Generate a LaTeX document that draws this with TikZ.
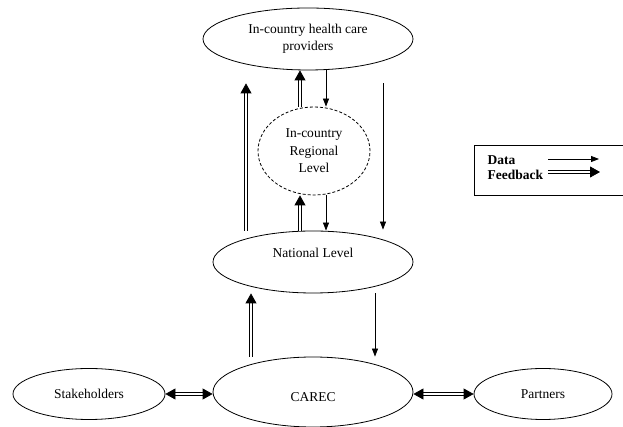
\documentclass[tikz,border=0pt]{standalone}
\usepackage{fontspec}
\setmainfont{Liberation Serif}
\usetikzlibrary{arrows.meta, shapes, positioning, calc}

\begin{document}
\begin{tikzpicture}[x=1pt, y=1pt, font=\fontsize{13.5}{17.5}\selectfont, line width=0.8pt,
    level/.style={ellipse, draw, inner sep=0pt, align=center},
    dataarrow/.style={-{Triangle[length=8pt, width=6pt]}},
    feedarrow/.style={double, double distance=1.8pt, -{Triangle[length=10pt, width=11pt]}},
    feedboth/.style={double, double distance=1.8pt, {Triangle[length=10pt, width=11pt]}-{Triangle[length=10pt, width=11pt]}}]
        \useasboundingbox (0,0) rectangle (623,427);

        \node[level, minimum width=210pt, minimum height=62pt] (hcp) at (308,388) {In-country health care\\providers};
        \node[level, densely dashed, minimum width=112pt, minimum height=88pt] (reg) at (314,276) {In-country\\Regional\\Level};
        \node[level, minimum width=200pt, minimum height=62pt, text height=10pt, text depth=19pt] (nat) at (313,165) {National Level};
        \node[level, minimum width=200pt, minimum height=70pt, text height=22pt, text depth=3pt] (carec) at (313,35) {CAREC};

        \node[level, minimum width=152pt, minimum height=51pt] (stake) at (89,33) {Stakeholders};
        \node[level, minimum width=138pt, minimum height=51pt] (part) at (543,33) {Partners};

         %legend
        \node[anchor=west, font=\fontsize{13.5}{15}\bfseries] (data) at (484,267) {Data};
        \node[anchor=west, font=\fontsize{13.5}{15}\bfseries] (feed) at (484,252) {Feedback};
        \coordinate (d0) at (548,268);
        \coordinate (d1) at (599,268);
        \coordinate (f0) at (548,255);
        \coordinate (f1) at (600,255);
        \draw (623,282) -| (474,232) -- (623,232);

         %Draw up and down arrows
        \draw[feedarrow] ([xshift=-14pt]reg.north) -- ([xshift=-8pt]hcp.south);
        \draw[dataarrow] ([xshift=18pt]hcp.south) -- ([xshift=12pt]reg.north);

        \draw[feedarrow] ([xshift=-13pt]nat.north) -- ([xshift=-14pt]reg.south);
        \draw[dataarrow] ([xshift=12pt]reg.south) -- ([xshift=13pt]nat.north);

        \draw[feedarrow, shorten >=13pt] ([xshift=-67pt]nat.north) -- ([xshift=-62pt]hcp.south);
        \draw[dataarrow, shorten <=13pt, shorten >=1pt] ([xshift=75pt]hcp.south) -- ([xshift=70pt]nat.north);

        \draw[feedarrow] ([xshift=-62pt]carec.north) -- ([xshift=-62pt]nat.south);
        \draw[dataarrow] ([xshift=62pt]nat.south) -- ([xshift=62pt]carec.north);

         %Draw side arrows
        \draw[feedboth] (stake.east) -- (carec.west |- stake.east);
        \draw[feedboth] (carec.east |- part.west) -- (part.west);

        \draw[dataarrow] (d0) -- (d1);
        \draw[feedarrow] (f0) -- (f1);

    \end{tikzpicture}
\end{document}
